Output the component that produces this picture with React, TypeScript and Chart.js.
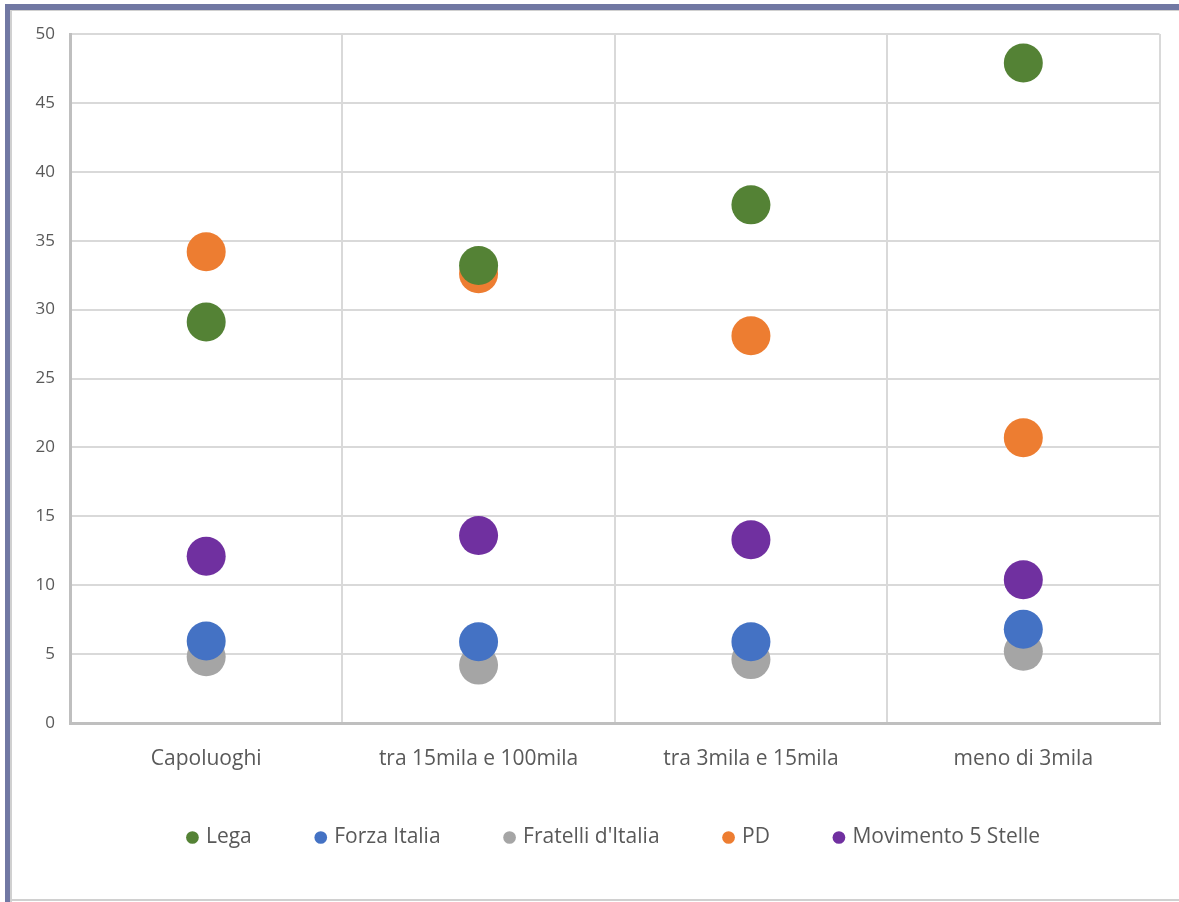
import React, { useEffect, useRef } from "react";
import { Chart, registerables } from "chart.js";

Chart.register(...registerables);

const categories = ["Capoluoghi", "tra 15mila e 100mila", "tra 3mila e 15mila", "meno di 3mila"];
const seriesNames = ["Lega", "Forza Italia", "Fratelli d'Italia", "PD", "Movimento 5 Stelle"];
const lega = [29.1, 33.2, 37.6, 47.9];
const forzaItalia = [5.95, 5.9, 5.9, 6.8];
const fratelliItalia = [4.8, 4.2, 4.6, 5.2];
const pd = [34.2, 32.6, 28.1, 20.7];
const m5s = [12.1, 13.6, 13.3, 10.4];
const seriesColors = ["#548235", "#4472c4", "#a5a5a5", "#ed7d31", "#7030a0"];
const yMin = 0;
const yMax = 50;
const yStep = 5;

const FONT = "'Open Sans', 'Noto Sans', sans-serif";
const TEXT = "#595959";

export default function App() {
  const canvasRef = useRef<HTMLCanvasElement | null>(null);

  useEffect(() => {
    const canvas = canvasRef.current;
    if (!canvas) return;
    const values = [lega, forzaItalia, fratelliItalia, pd, m5s];
    const chart = new Chart(canvas, {
      type: "line",
      data: {
        labels: categories,
        datasets: seriesNames.map((name, i) => ({
          label: name,
          data: values[i],
          showLine: false,
          backgroundColor: seriesColors[i],
          borderColor: seriesColors[i],
          borderWidth: 0,
          pointRadius: 19.5,
          pointHoverRadius: 19.5,
          pointBorderWidth: 0,
          pointStyle: "circle",
        })),
      },
      options: {
        animation: false,
        responsive: false,
        maintainAspectRatio: false,
        events: [],
        layout: { padding: { left: 0, right: 10, top: 34, bottom: 44 } },
        plugins: {
          tooltip: { enabled: false },
          legend: {
            position: "bottom",
            fullSize: false,
            labels: {
              usePointStyle: true,
              pointStyle: "circle",
              boxWidth: 6,
              boxHeight: 9,
              padding: 66,
              color: TEXT,
              font: { family: FONT, size: 21 },
            },
          },
        },
        scales: {
          x: {
            type: "category",
            offset: true,
            afterFit: (s: any) => { s.height = 38; },
            grid: { offset: true, color: "#d9d9d9", lineWidth: 2, drawTicks: false },
            border: { color: "#bfbfbf", width: 3 },
            ticks: { color: TEXT, font: { family: FONT, size: 21 }, mirror: true, padding: -49, maxRotation: 0, autoSkip: false },
          },
          y: {
            min: yMin,
            max: yMax,
            afterFit: (s: any) => { s.width = 70; },
            grid: { color: "#d9d9d9", lineWidth: 2, drawTicks: false },
            border: { color: "#bfbfbf", width: 3 },
            ticks: { stepSize: yStep, color: TEXT, font: { family: FONT, size: 17 }, padding: 15 },
          },
        },
      },
    });
    return () => chart.destroy();
  }, []);

  return (
    <div style={{ position: "absolute", left: 0, top: 0, width: 1179, height: 902, background: "#ffffff", overflow: "hidden" }}>
      <canvas ref={canvasRef} width={1179} height={902} style={{ position: "absolute", left: 0, top: 0, width: 1179, height: 902 }} />
      <div style={{ position: "absolute", left: 5, top: 4, width: 1174, height: 6, background: "#7178a3" }} />
      <div style={{ position: "absolute", left: 5, top: 4, width: 5, height: 898, background: "#7178a3" }} />
      <div style={{ position: "absolute", left: 10, top: 10, width: 1169, height: 1, background: "#d0d0d0" }} />
      <div style={{ position: "absolute", left: 10, top: 10, width: 2, height: 892, background: "#d0d0d0" }} />
      <div style={{ position: "absolute", left: 10, top: 899, width: 1169, height: 2, background: "#d0d0d0" }} />
    </div>
  );
}
